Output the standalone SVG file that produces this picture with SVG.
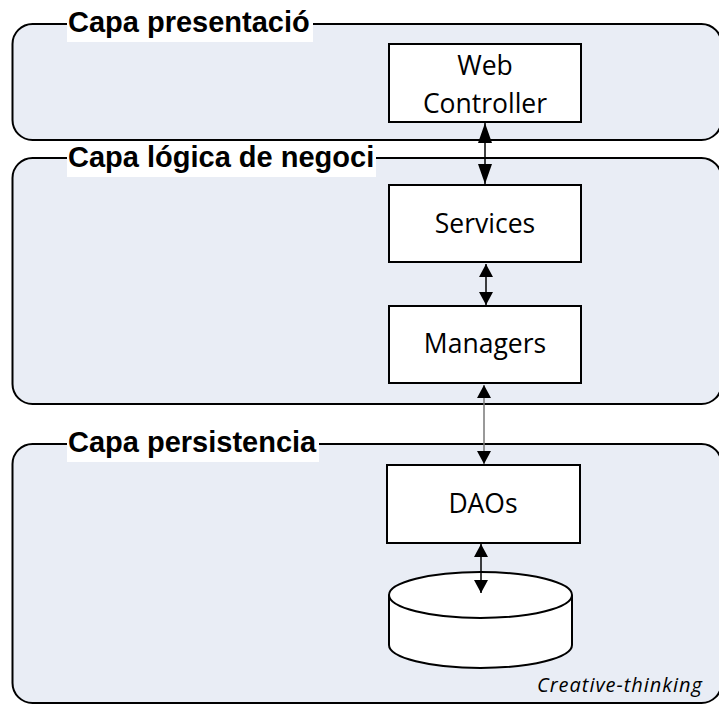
<svg xmlns="http://www.w3.org/2000/svg" width="719" height="704" viewBox="0 0 719 704">
<style>
.layer{fill:#e9edf5;stroke:#000;stroke-width:2}
.lblbg{fill:#fff}
.lbl{font-family:"Liberation Sans",Arial,sans-serif;font-weight:bold;font-size:29px;fill:#000}
.box{fill:#fff;stroke:#000;stroke-width:2}
.txt{font-family:"Open Sans",sans-serif;font-size:26.5px;fill:#000;text-anchor:middle}
.conn{stroke:#000;stroke-width:1.5;fill:none}
.conn.gray{stroke:#777}
.note{font-family:"Open Sans",sans-serif;font-style:italic;font-size:20px;fill:#000}
</style>
<defs>
<marker id="big" viewBox="0 0 20 14" refX="20" refY="7" markerWidth="20" markerHeight="14" markerUnits="userSpaceOnUse" orient="auto-start-reverse"><path d="M0,0 L20,7 L0,14 z" fill="#000"/></marker>
<marker id="small" viewBox="0 0 13 14" refX="13" refY="7" markerWidth="13" markerHeight="14" markerUnits="userSpaceOnUse" orient="auto-start-reverse"><path d="M0,0 L13,7 L0,14 z" fill="#000"/></marker>
</defs>
<g id="layer-presentacio">
<rect class="layer" x="12.5" y="24" width="709" height="116" rx="20" ry="20"/>
<rect class="lblbg" x="67" y="8" width="246" height="34"/>
<text class="lbl" x="68" y="32">Capa presentació</text>
</g>
<g id="layer-logica">
<rect class="layer" x="12.5" y="158" width="709" height="246" rx="20" ry="20"/>
<rect class="lblbg" x="67" y="143" width="309" height="34"/>
<text class="lbl" x="68" y="167">Capa lógica de negoci</text>
</g>
<g id="layer-persistencia">
<rect class="layer" x="12.5" y="444" width="709" height="259" rx="20" ry="20"/>
<rect class="lblbg" x="67" y="428" width="252" height="34"/>
<text class="lbl" x="68" y="452">Capa persistencia</text>
</g>
<g id="web-controller">
<rect class="box" x="389" y="44" width="192" height="78"/>
<text class="txt" x="485" y="75">Web</text>
<text class="txt" x="485" y="113">Controller</text>
</g>
<g id="services">
<rect class="box" x="389" y="185" width="192" height="77"/>
<text class="txt" x="485" y="233">Services</text>
</g>
<g id="managers">
<rect class="box" x="389" y="306" width="192" height="77"/>
<text class="txt" x="485" y="353">Managers</text>
</g>
<g id="daos">
<rect class="box" x="387" y="465" width="193" height="78"/>
<text class="txt" x="483" y="513">DAOs</text>
</g>
<g id="database">
<path d="M389,595 L389,645 A91.5,23 0 0 0 572,645 L572,595" fill="#fff" stroke="#000" stroke-width="2"/>
<ellipse cx="480.5" cy="595" rx="91.5" ry="23" fill="#fff" stroke="#000" stroke-width="2"/>
</g>
<g id="connectors">
<line class="conn" x1="485" y1="123" x2="485" y2="184" marker-start="url(#big)" marker-end="url(#big)"/>
<line class="conn" x1="486" y1="264" x2="486" y2="305" marker-start="url(#small)" marker-end="url(#small)"/>
<line class="conn gray" x1="484" y1="385" x2="484" y2="464" marker-start="url(#small)" marker-end="url(#small)"/>
<line class="conn" x1="481" y1="544" x2="481" y2="593" marker-start="url(#small)" marker-end="url(#small)"/>
</g>
<text class="note" x="537" y="692" textLength="165" lengthAdjust="spacing">Creative-thinking</text>
</svg>
